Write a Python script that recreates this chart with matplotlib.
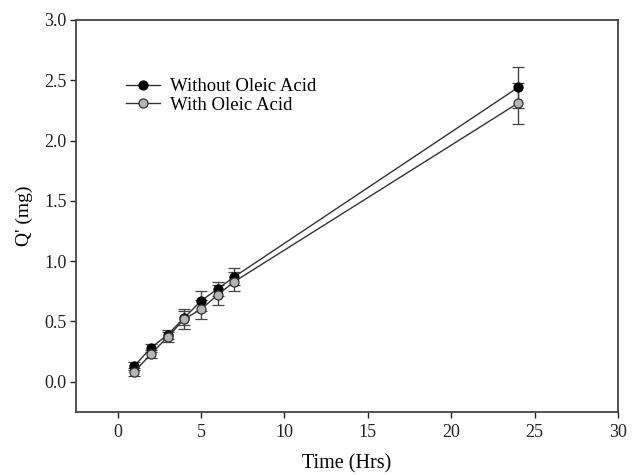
import matplotlib
matplotlib.use("Agg")
import matplotlib.pyplot as plt
from matplotlib.lines import Line2D

plt.rcParams['font.family'] = ['Liberation Serif', 'DejaVu Serif']

time_hrs = [1, 2, 3, 4, 5, 6, 7, 24]
without_oleic = [0.13, 0.28, 0.39, 0.53, 0.67, 0.77, 0.87, 2.44]
without_err = [0.03, 0.03, 0.04, 0.06, 0.08, 0.06, 0.07, 0.17]
with_oleic = [0.08, 0.23, 0.37, 0.52, 0.60, 0.72, 0.83, 2.31]
with_err = [0.03, 0.03, 0.04, 0.08, 0.08, 0.08, 0.08, 0.17]

x_ticks = [0, 5, 10, 15, 20, 25, 30]
y_ticks = [0.0, 0.5, 1.0, 1.5, 2.0, 2.5, 3.0]
series_labels = ['Without Oleic Acid', 'With Oleic Acid']

fig = plt.figure(figsize=(6.32, 4.75), dpi=100)
ax = fig.add_axes([0.120, 0.133, 0.858, 0.825])

line_col = '#333333'
styles = [dict(mfc='black', mec='black'), dict(mfc='#b4b4b4', mec='#333333')]

for y, err, st in zip([without_oleic, with_oleic], [without_err, with_err], styles):
    ax.errorbar(time_hrs, y, yerr=err, fmt='o-', color=line_col, lw=1.0, ms=6.5,
                mew=0.9, ecolor='#444444', elinewidth=1.0, capsize=4, capthick=1.0,
                zorder=3, **st)

ax.set_xlim(-2.5, 30)
ax.set_ylim(-0.25, 3.0)
ax.set_xticks(x_ticks)
ax.set_yticks(y_ticks)
ax.set_yticklabels([f'{v:.1f}' for v in y_ticks])
ax.tick_params(direction='out', length=4.5, width=1, labelsize=13, colors='#222222',
               top=False, right=False)
ax.tick_params(axis='x', pad=4)
ax.tick_params(axis='y', pad=2)
for s in ax.spines.values():
    s.set_linewidth(1.3)
    s.set_color('#444444')

ax.set_xlabel('Time (Hrs)', fontsize=14.5, labelpad=10)
ax.set_ylabel("Q' (mg)", fontsize=14, labelpad=8)

handles = [Line2D([], [], color=line_col, lw=1.0, marker='o', ms=6.5, mew=0.9, **st)
           for st in styles]
ax.legend(handles, series_labels, loc='upper left', bbox_to_anchor=(0.092, 0.852),
          frameon=False, fontsize=13.5, handlelength=1.85, handletextpad=0.5,
          labelspacing=0.07, borderpad=0, borderaxespad=0)
plt.savefig('out.png', dpi=100)
